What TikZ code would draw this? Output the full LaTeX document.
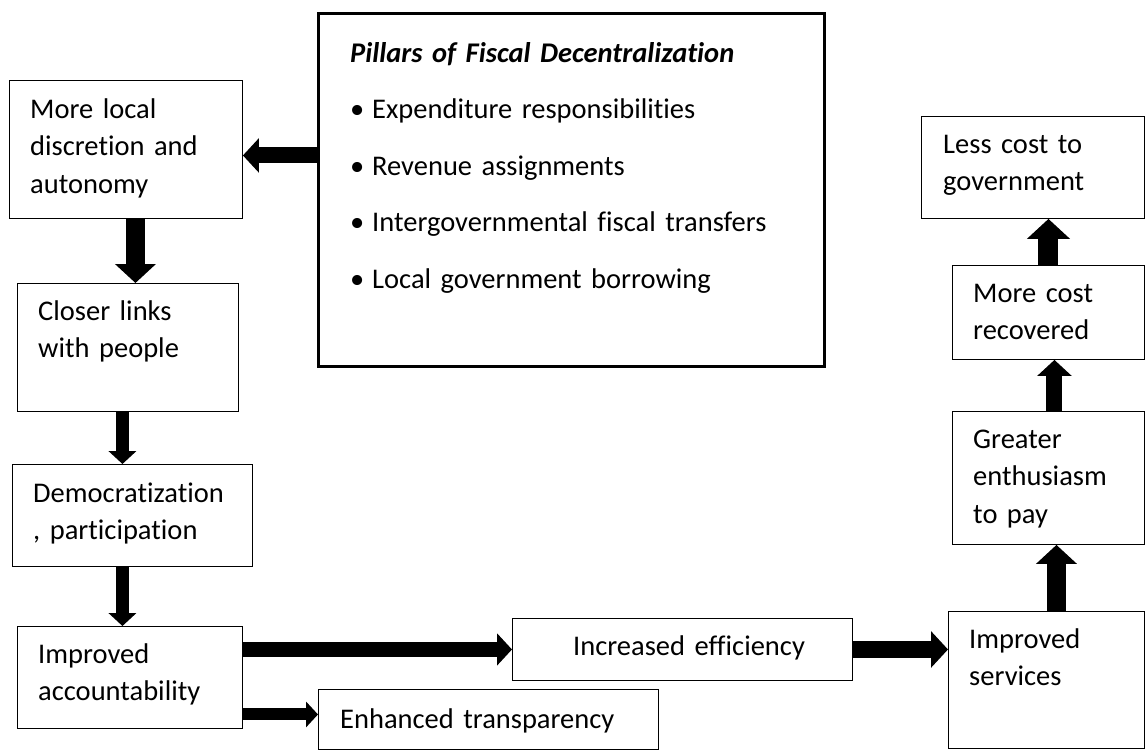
\documentclass[tikz,border=0pt]{standalone}
\usepackage{fontspec}
\setmainfont{Carlito}[Ligatures=NoCommon]
\usetikzlibrary{arrows.meta}

\begin{document}
\begin{tikzpicture}[x=1pt, y=-1pt,
  box/.style={draw=black, line width=0.9pt, anchor=north west, inner sep=0pt},
  txt/.style={anchor=base west, inner sep=0pt, align=left, text width=#1,
    font=\fontsize{28.5}{37.5}\selectfont},
  txt/.default=180pt,
  fat/.style={line width=#1, -{Triangle[width=0pt 2.1, length=0pt 1]}}]

  \useasboundingbox (0,0) rectangle (1145,750);

  % boxes
  \node[box, line width=2.6pt, minimum width=506pt, minimum height=353pt] (pillars) at (317,12) {};
  \node[box, minimum width=233pt, minimum height=138pt] (local) at (9,80) {};
  \node[box, minimum width=221pt, minimum height=128pt] (closer) at (17,283) {};
  \node[box, minimum width=240pt, minimum height=102pt] (democ) at (12,464) {};
  \node[box, minimum width=225pt, minimum height=102pt] (acct) at (17,626) {};
  \node[box, minimum width=340pt, minimum height=62pt] (eff) at (512,618) {};
  \node[box, minimum width=340pt, minimum height=60pt] (transp) at (318,689) {};
  \node[box, minimum width=196pt, minimum height=137pt] (services) at (948,611) {};
  \node[box, minimum width=192pt, minimum height=133pt] (enthus) at (952,411) {};
  \node[box, minimum width=192pt, minimum height=94pt] (recovered) at (952,265) {};
  \node[box, minimum width=223pt, minimum height=102pt] (lesscost) at (921,116) {};

  % texts
  \node[txt=460pt, font=\fontsize{28.5}{56.5}\selectfont] (pillars-t) at ([shift={(33,50)}]pillars.north west)
    {\textbf{\textit{Pillars of Fiscal Decentralization}}\\
     \makebox[22pt][l]{•}Expenditure responsibilities\\
     \makebox[22pt][l]{•}Revenue assignments\\
     \makebox[22pt][l]{•}Intergovernmental fiscal transfers\\
     \makebox[22pt][l]{•}Local government borrowing};
  \node[txt] (local-t) at ([shift={(21,38)}]local.north west) {More local\\discretion and\\autonomy};
  \node[txt] (closer-t) at ([shift={(21,37)}]closer.north west) {Closer links\\with people};
  \node[txt=215pt] (democ-t) at ([shift={(21,38)}]democ.north west) {Democratization\\, participation};
  \node[txt] (acct-t) at ([shift={(21,37)}]acct.north west) {Improved\\accountability};
  \node[txt=270pt] (eff-t) at ([shift={(61,37)}]eff.north west) {Increased efficiency};
  \node[txt=300pt] (transp-t) at ([shift={(22,39)}]transp.north west) {Enhanced transparency};
  \node[txt] (services-t) at ([shift={(21,37)}]services.north west) {Improved\\services};
  \node[txt] (enthus-t) at ([shift={(21,37)}]enthus.north west) {Greater\\enthusiasm\\to pay};
  \node[txt] (recovered-t) at ([shift={(21,37)}]recovered.north west) {More cost\\recovered};
  \node[txt] (lesscost-t) at ([shift={(22,37)}]lesscost.north west) {Less cost to\\government};

  % block arrows
  \coordinate (a1) at ([yshift=-6pt]local.east);
  \draw[fat=16pt] (pillars.west |- a1) -- (a1);
  \draw[fat=19pt] ([xshift=9.5pt]local.south) -- ([xshift=9.5pt]local.south |- closer.north);
  \draw[fat=13pt] ([xshift=-5.5pt]closer.south) -- ([xshift=-5.5pt]closer.south |- democ.north);
  \draw[fat=13pt] ([xshift=-10pt]democ.south) -- ([xshift=-10pt]democ.south |- acct.north);
  \draw[fat=15pt] (acct.east |- eff.west) -- (eff.west);
  \coordinate (a6) at ([yshift=5pt]transp.west);
  \draw[fat=12pt] (acct.east |- a6) -- (a6);
  \draw[fat=17pt] (eff.east) -- (services.west |- eff.east);
  \draw[fat=19pt] ([xshift=10pt]services.north) -- ([xshift=10pt]services.north |- enthus.south);
  \draw[fat=16pt] ([xshift=6pt]enthus.north) -- ([xshift=6pt]enthus.north |- recovered.south);
  \draw[fat=20pt] (recovered.north) -- (recovered.north |- lesscost.south);

\end{tikzpicture}
\end{document}
